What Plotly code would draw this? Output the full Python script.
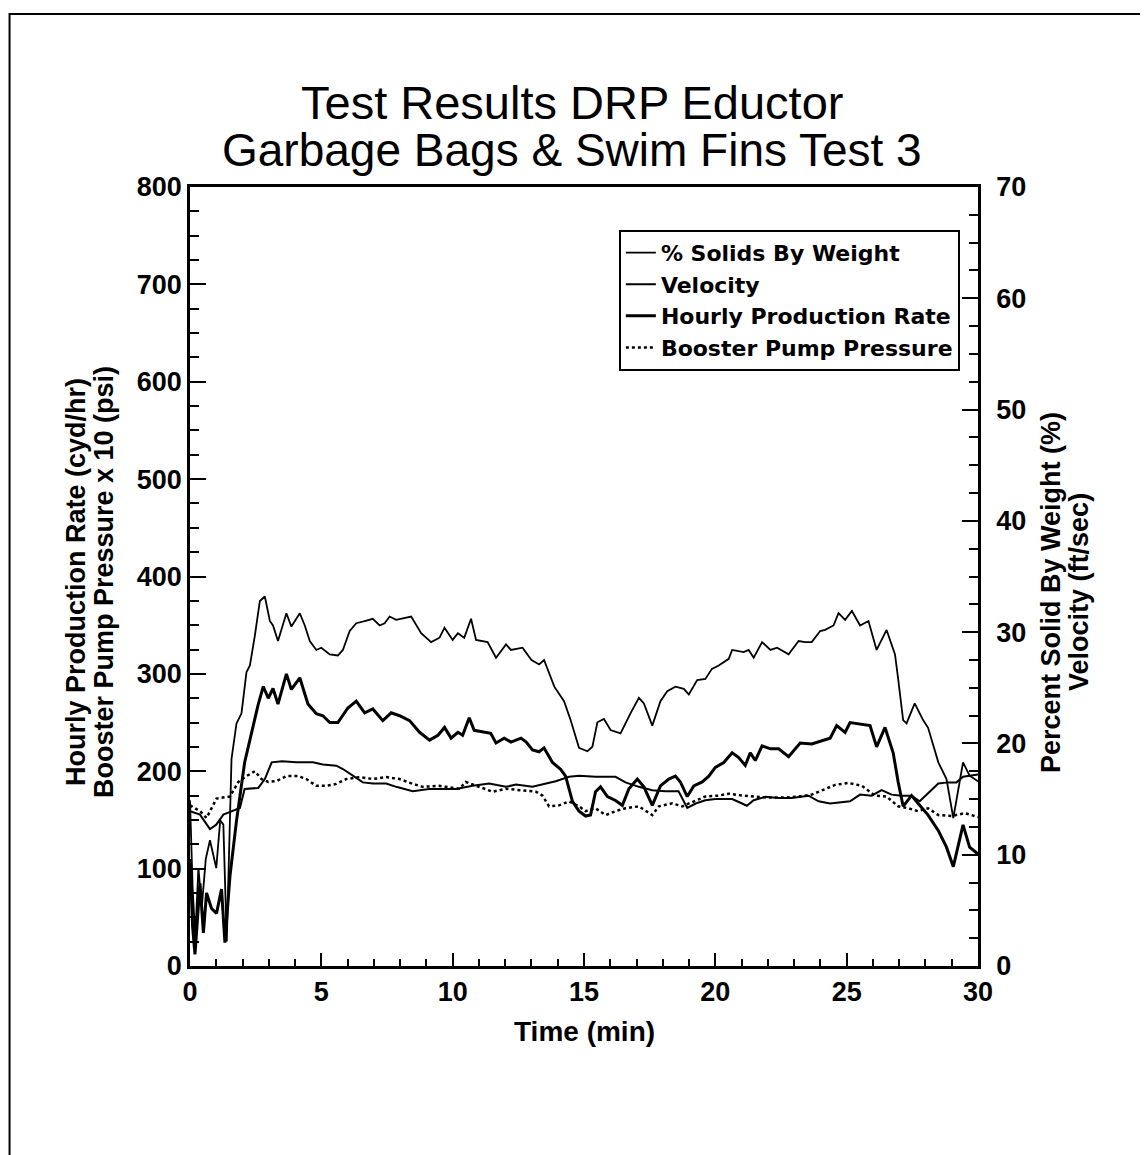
import plotly.graph_objects as go

# % Solids By Weight (right axis, %)
T_SOLIDS = [0, 0.1, 0.2, 0.32, 0.45, 0.6, 0.76, 1.0, 1.15, 1.27, 1.4, 1.58, 1.77, 1.96, 2.15, 2.28,
            2.47, 2.66, 2.85, 3.04, 3.16, 3.35, 3.67, 3.86, 4.18, 4.37, 4.56, 4.81, 5.0, 5.32, 5.63,
            5.82, 6.08, 6.33, 6.65, 6.96, 7.22, 7.41, 7.6, 7.85, 8.42, 8.8, 9.18, 9.5, 9.69, 10.0,
            10.2, 10.44, 10.7, 10.89, 11.33, 11.65, 12.03, 12.22, 12.66, 13.0, 13.29, 13.48, 13.87,
            14.24, 14.49, 14.81, 15.13, 15.32, 15.51, 15.76, 16.01, 16.39, 16.77, 17.09, 17.28, 17.6,
            17.91, 18.17, 18.48, 18.8, 18.99, 19.31, 19.62, 19.87, 20.13, 20.51, 20.64, 21.08, 21.27,
            21.46, 21.78, 22.1, 22.35, 22.79, 23.17, 23.42, 23.67, 23.99, 24.18, 24.5, 24.69, 24.94,
            25.2, 25.51, 25.83, 26.14, 26.52, 26.84, 26.96, 27.15, 27.28, 27.59, 27.91, 28.1, 28.49,
            28.8, 29.06, 29.43, 29.68, 30.0]
SOLIDS = [14.9, 7.0, 2.6, 8.8, 5.3, 9.6, 11.3, 8.8, 13.1, 12.7, 2.2, 18.6, 21.8, 22.7, 26.4, 27.0,
          29.7, 32.8, 33.2, 31.0, 30.6, 29.2, 31.7, 30.5, 31.7, 30.6, 29.2, 28.4, 28.6, 28.0, 27.9,
          28.4, 30.1, 30.8, 31.0, 31.2, 30.6, 30.8, 31.4, 31.1, 31.4, 29.9, 29.1, 29.5, 30.4, 29.3,
          29.9, 29.5, 31.2, 29.3, 29.1, 27.7, 28.9, 28.4, 28.6, 27.5, 27.1, 27.5, 25.1,
          23.8, 22.1, 19.6, 19.3, 19.7, 21.9, 22.2, 21.2, 20.9, 22.7, 24.1, 23.6, 21.6,
          23.8, 24.7, 25.1, 24.9, 24.4, 25.7, 25.8, 26.7, 27.0, 27.6, 28.4, 28.2, 28.4,
          27.7, 29.1, 28.4, 28.6, 28.0, 29.2, 29.1, 29.1, 30.1, 30.2, 30.6, 31.7, 31.1,
          31.9, 30.6, 31.0, 28.4, 30.2, 28.0, 25.8, 22.1, 21.8, 23.6, 22.1, 21.4, 18.3,
          16.8, 13.3, 18.3, 17.1, 16.6]

# Velocity (right axis, ft/sec)
T_VEL = [0, 0.38, 0.76, 1.0, 1.27, 1.9, 2.08, 2.6, 2.85, 3.11, 3.5, 4.05, 4.68, 5.06, 5.57, 5.82,
         6.2, 6.58, 6.96, 7.47, 7.85, 8.48, 9.1, 9.7, 10.13, 10.76, 11.39, 12.03, 12.41, 13.04,
         13.54, 13.92, 14.43, 14.81, 15.44, 16.2, 16.58, 17.09, 17.6, 18.1, 18.6, 18.93, 19.25,
         19.62, 20.0, 20.64, 21.02, 21.2, 21.46, 21.9, 22.4, 22.9, 23.55, 23.93, 24.37, 25.13,
         25.51, 25.95, 26.33, 26.71, 27.09, 27.47, 27.78, 28.1, 28.49, 28.86, 29.18, 29.43, 29.75, 30.0]
VELOCITY = [13.9, 13.6, 12.3, 12.7, 13.6, 14.2, 15.9, 16.0, 16.8, 18.3, 18.4, 18.3, 18.3, 18.1, 18.0, 17.7,
            17.1, 16.5, 16.4, 16.4, 16.1, 15.7, 15.9, 15.9, 15.9, 16.2, 16.4, 16.1, 16.3, 16.1,
            16.4, 16.6, 17.0, 17.1, 17.0, 17.0, 16.5, 16.1, 15.8, 15.7, 15.7, 14.2, 14.6,
            14.9, 15.0, 15.0, 14.6, 14.4, 14.9, 15.2, 15.1, 15.1, 15.3, 14.8, 14.6, 14.8,
            15.4, 15.3, 15.8, 15.4, 15.3, 15.3, 14.8, 15.5, 16.4, 16.5, 16.5, 17.0, 17.1, 17.2]

# Hourly Production Rate (left axis, cyd/hr)
T_PROD = [0, 0.1, 0.19, 0.38, 0.51, 0.63, 0.82, 1.01, 1.2, 1.33, 1.52, 1.77, 2.08, 2.34, 2.6, 2.79,
          2.98, 3.16, 3.35, 3.67, 3.86, 4.18, 4.49, 4.81, 5.06, 5.32, 5.63, 6.01, 6.33, 6.65, 6.96,
          7.34, 7.66, 7.98, 8.36, 8.74, 9.12, 9.44, 9.69, 9.94, 10.2, 10.38, 10.63, 10.82, 11.27,
          11.45, 11.65, 11.96, 12.22, 12.6, 12.8, 13.04, 13.29, 13.48, 13.8, 14.11, 14.3, 14.56,
          14.81, 15.06, 15.25, 15.44, 15.63, 15.89, 16.2, 16.46, 16.71, 17.03, 17.28, 17.6, 17.91,
          18.23, 18.48, 18.67, 18.93, 19.18, 19.5, 19.75, 20.0, 20.32, 20.64, 20.89, 21.14, 21.33,
          21.52, 21.78, 22.1, 22.41, 22.79, 23.23, 23.67, 23.99, 24.37, 24.62, 24.94, 25.13, 25.44,
          25.89, 26.14, 26.46, 26.77, 26.96, 27.15, 27.47, 27.78, 28.1, 28.49, 28.8, 29.06, 29.43,
          29.68, 30.0]
PRODUCTION = [110, 40, 12, 85, 34, 75, 59, 54, 79, 24, 92, 149, 209, 239, 269, 287,
              275, 285, 269, 300, 284, 296, 269, 259, 257, 250, 250, 265, 272, 260, 264,
              252, 260, 257, 252, 240, 232, 237, 245, 234, 240, 237, 255, 242, 240,
              239, 229, 234, 230, 234, 230, 222, 220, 224, 209, 202, 195, 169,
              159, 154, 155, 179, 184, 174, 170, 165, 182, 192, 184, 165, 185,
              192, 195, 189, 174, 185, 189, 195, 204, 209, 219, 214, 206, 219,
              211, 226, 223, 223, 215, 229, 228, 231, 234, 247, 240, 250, 249,
              247, 225, 245, 219, 189, 164, 175, 165, 155, 139, 122, 102, 145,
              122, 115]

# Booster Pump Pressure x 10 (left axis, psi x 10)
T_BOOST = [0, 0.38, 0.63, 1.01, 1.52, 1.84, 2.15, 2.47, 2.72, 2.98, 3.3, 3.67, 4.11, 4.43, 4.81,
           5.19, 5.57, 5.95, 6.46, 6.96, 7.47, 7.98, 8.48, 8.86, 9.49, 10.25, 10.5, 11.52, 12.03,
           12.66, 13.17, 13.42, 13.67, 14.05, 14.43, 14.81, 15.06, 15.44, 15.82, 16.2, 16.58, 17.09,
           17.6, 17.85, 18.36, 18.74, 19.24, 19.62, 20.13, 20.51, 21.02, 21.9, 22.66, 23.17, 23.67,
           24.18, 24.56, 25.07, 25.58, 26.08, 26.52, 26.96, 27.34, 27.72, 28.1, 28.49, 28.99, 29.5, 30.0]
BOOSTER_X10 = [165, 159, 152, 172, 174, 189, 195, 200, 192, 189, 190, 195, 195, 192, 185,
               185, 187, 192, 194, 192, 194, 192, 187, 184, 185, 182, 189, 179, 182,
               180, 179, 175, 164, 165, 169, 164, 159, 162, 155, 159, 162, 164,
               155, 164, 167, 164, 170, 174, 175, 177, 175, 173, 173, 174, 176,
               182, 186, 188, 185, 175, 174, 164, 162, 159, 162, 155, 154, 157, 153]

FONT = "Liberation Sans, Arial, sans-serif"
LEGEND_FONT = "DejaVu Sans, Liberation Sans, sans-serif"

fig = go.Figure()
fig.add_trace(go.Scatter(x=T_SOLIDS, y=SOLIDS, name="% Solids By Weight", yaxis="y2",
                         mode="lines", line=dict(color="black", width=1.8)))
fig.add_trace(go.Scatter(x=T_VEL, y=VELOCITY, name="Velocity", yaxis="y2",
                         mode="lines", line=dict(color="black", width=2)))
fig.add_trace(go.Scatter(x=T_PROD, y=PRODUCTION, name="Hourly Production Rate",
                         mode="lines", line=dict(color="black", width=3)))
fig.add_trace(go.Scatter(x=T_BOOST, y=BOOSTER_X10, name="Booster Pump Pressure",
                         mode="lines", line=dict(color="black", width=2.5, dash="dot")))

tickfont = dict(family=FONT, size=27, color="black", weight="bold")
axis_common = dict(showgrid=False, zeroline=False, showline=True, linecolor="black",
                   linewidth=2.5, ticks="inside", tickcolor="black", tickwidth=2,
                   tickfont=tickfont)

fig.update_layout(
    width=1148, height=1155,
    margin=dict(l=182, r=178, t=179, b=197),
    paper_bgcolor="white", plot_bgcolor="white",
    font=dict(family=FONT, color="black"),
    xaxis=dict(range=[0, 30], tick0=0, dtick=5, ticklen=13, mirror=True,
               minor=dict(dtick=1, ticks="inside", ticklen=7, tickwidth=1.5, tickcolor="black"),
               **axis_common),
    yaxis=dict(range=[0, 800], tick0=0, dtick=100, ticklen=16,
               minor=dict(dtick=25, ticks="inside", ticklen=9, tickwidth=1.5, tickcolor="black"),
               **axis_common),
    yaxis2=dict(range=[0, 70], tick0=0, dtick=10, ticklen=16, overlaying="y", side="right",
                ticklabelstandoff=10,
                minor=dict(dtick=2.5, ticks="inside", ticklen=9, tickwidth=1.5, tickcolor="black"),
                **axis_common),
    showlegend=True,
    legend=dict(x=0.977, y=0.945, xanchor="right", yanchor="top", bgcolor="white",
                bordercolor="black", borderwidth=2, itemwidth=30, tracegroupgap=0,
                font=dict(family=LEGEND_FONT, size=22, color="black", weight="bold")),
)

# titles
fig.add_annotation(text="Test Results DRP Eductor", xref="paper", yref="paper", x=0.485, y=1.109,
                   showarrow=False, xanchor="center", yanchor="middle", font=dict(family=FONT, size=47))
fig.add_annotation(text="Garbage Bags & Swim Fins Test 3", xref="paper", yref="paper", x=0.485, y=1.0475,
                   showarrow=False, xanchor="center", yanchor="middle", font=dict(family=FONT, size=46))
fig.add_annotation(text="Time (min)", xref="paper", yref="paper", x=0.5, y=-0.0847,
                   showarrow=False, xanchor="center", yanchor="middle",
                   font=dict(family=FONT, size=28, weight="bold"))
fig.add_annotation(text="Hourly Production Rate (cyd/hr)", xref="paper", yref="paper", x=-0.1447, y=0.493,
                   textangle=-90, showarrow=False, xanchor="center", yanchor="middle",
                   font=dict(family=FONT, size=27, weight="bold"))
fig.add_annotation(text="Booster Pump Pressure x 10 (psi)", xref="paper", yref="paper", x=-0.109, y=0.493,
                   textangle=-90, showarrow=False, xanchor="center", yanchor="middle",
                   font=dict(family=FONT, size=27, weight="bold"))
fig.add_annotation(text="Percent Solid By Weight (%)", xref="paper", yref="paper", x=1.0926, y=0.48,
                   textangle=-90, showarrow=False, xanchor="center", yanchor="middle",
                   font=dict(family=FONT, size=27, weight="bold"))
fig.add_annotation(text="Velocity (ft/sec)", xref="paper", yref="paper", x=1.128, y=0.48,
                   textangle=-90, showarrow=False, xanchor="center", yanchor="middle",
                   font=dict(family=FONT, size=27, weight="bold"))

# outer page frame
fig.add_shape(type="path", xref="paper", yref="paper",
              path="M -0.229 -0.26 L -0.229 1.222 L 1.216 1.222 L 1.216 -0.26",
              line=dict(color="black", width=2))

fig.write_html("out.html")
